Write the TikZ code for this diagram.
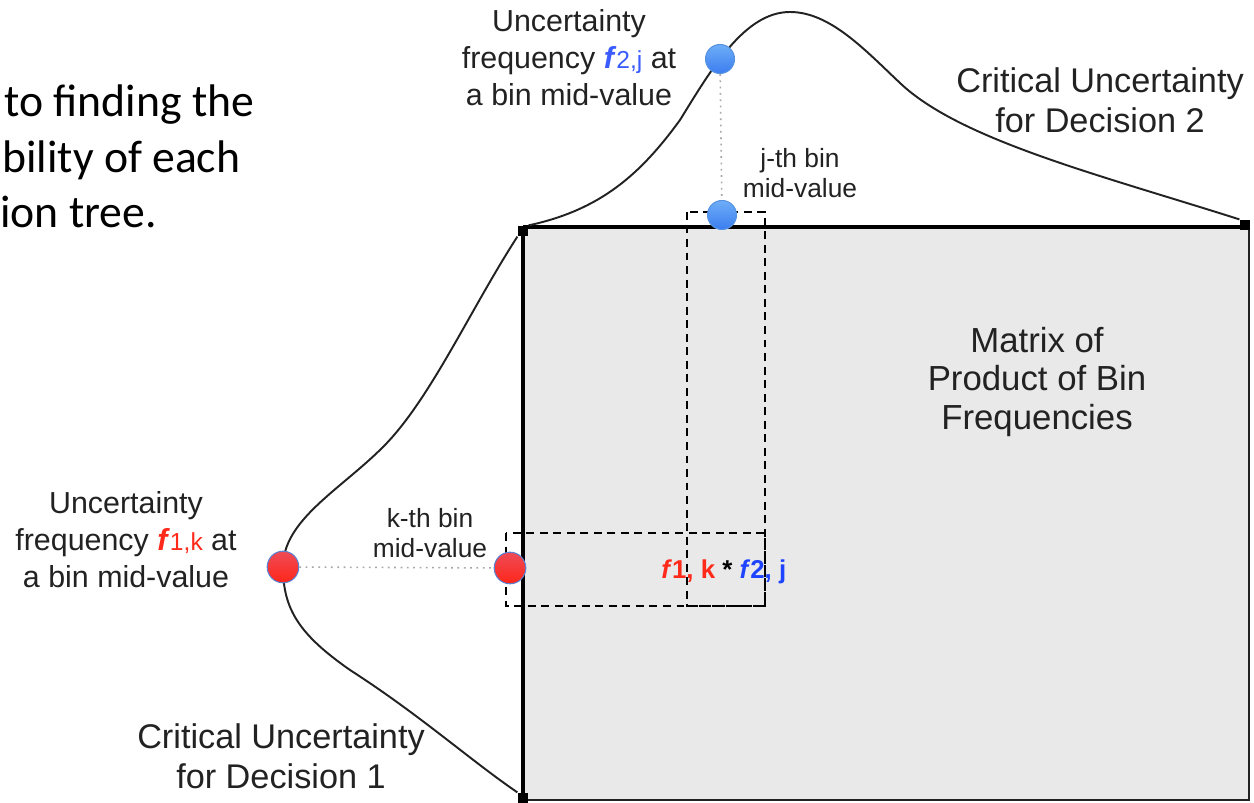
\documentclass[tikz,border=0pt]{standalone}
\usepackage{fontspec}
\setmainfont{Liberation Sans}
\newfontfamily\calibrifont{Carlito}
\begin{document}
\definecolor{matrixgray}{HTML}{E9E9E9}
\definecolor{redtxt}{HTML}{FF2A1A}
\definecolor{bluetxt}{HTML}{1F44FF}
\definecolor{lightbluetxt}{HTML}{3A5CFF}
\definecolor{redtop}{HTML}{EE4B58}
\definecolor{redbot}{HTML}{FF2618}
\definecolor{redrim}{HTML}{5A80D0}
\definecolor{bluetop}{HTML}{6FAEF8}
\definecolor{bluebot}{HTML}{3A7DF0}
\definecolor{bluerim}{HTML}{5592E2}
\definecolor{inkgray}{HTML}{222222}
\begin{tikzpicture}[x=0.02cm,y=-0.02cm,
  lbl/.style={align=center,inner sep=0pt,text=inkgray,font=\fontsize{17.3}{21}\selectfont},
  critlbl/.style={align=center,inner sep=0pt,text=inkgray,font=\fontsize{19.5}{22.7}\selectfont},
  smalllbl/.style={align=center,inner sep=0pt,text=inkgray,font=\fontsize{15}{17}\selectfont},
  matlbl/.style={align=center,inner sep=0pt,text=inkgray,font=\fontsize{19.8}{22.1}\selectfont},
  bodytxt/.style={anchor=base west,inner sep=0pt,font=\calibrifont\fontsize{26}{32}\selectfont},
  corner/.style={fill=black,draw=none,minimum size=6pt,inner sep=0pt},
  reddot/.style={circle,minimum size=18pt,inner sep=0pt,draw=redrim,line width=0.6pt,top color=redtop,bottom color=redbot},
  bluedot/.style={circle,minimum size=16.5pt,inner sep=0pt,draw=bluerim,line width=0.6pt,top color=bluetop,bottom color=bluebot},
  density/.style={line width=1.1pt,draw=inkgray},
  guide/.style={draw=gray!70,line width=0.9pt,dash pattern=on 1pt off 2.6pt},
  binbox/.style={draw=black,line width=0.8pt,dash pattern=on 4.5pt off 3.2pt}
]
\useasboundingbox (0,0) rectangle (1254,803);

% running text on the left
\node[bodytxt] (t1) at (4,117) {to finding the};
\node[bodytxt] (t2) at (2,173) {bility of each};
\node[bodytxt] (t3) at (0,228) {ion tree.};

% matrix of products
\fill[matrixgray] (523,227) rectangle (1249,800);
\draw[inkgray,line width=0.9pt] (1249,227) -- (1249,800) -- (523,800);
\draw[black,line width=1.8pt] (523,227) -- (1249,227);
\draw[black,line width=2.3pt] (523,227) -- (523,800);
\node[matlbl] (mat) at (1037,382) {Matrix of\\Product of Bin\\Frequencies};

% dashed bin strips
\draw[binbox] (506,533) rectangle (765,606);
\draw[binbox] (687,212) rectangle (765,606);

% corner markers
\node[corner] (c1) at (523,231) {};
\node[corner] (c2) at (1245,225) {};
\node[corner] (c3) at (523,798) {};

% density curve of decision 2 (top)
\draw[density] (c1.north east)
  .. controls (600,210) and (640,175) .. (680,120)
  .. controls (712,68) and (745,12) .. (790,12)
  .. controls (830,12) and (865,50) .. (900,83)
  .. controls (960,140) and (1100,175) .. (c2.north west);
% density curve of decision 1 (left)
\draw[density] (c1.south west)
  .. controls (470,310) and (430,400) .. (383,447)
  .. controls (340,490) and (283,520) .. (283,567)
  .. controls (283,610) and (300,635) .. (350,670)
  .. controls (420,715) and (470,760) .. (c3.north west);

% bin mid-values
\node[bluedot] (b1) at (720,59) {};
\node[bluedot] (b2) at (722,215) {};
\node[reddot] (r1) at (283,567) {};
\node[reddot] (r2) at (510,568) {};
\draw[guide] (b1) -- (b2);
\draw[guide] (r1) -- (r2);

% product label
\node[anchor=west,inner sep=0pt,font=\fontsize{14.7}{17}\selectfont\bfseries] (prod) at (661,572)
  {\textcolor{redtxt}{\textit{f}1, k} * \textcolor{bluetxt}{\textit{f}2, j}};

% labels
\node[lbl] (u2) at (569,58) {Uncertainty\\frequency \textcolor{lightbluetxt}{\textbf{\textit{f}}{\fontsize{14}{14}\selectfont 2,j}} at\\a bin mid-value};
\node[lbl] (u1) at (126,540) {Uncertainty\\frequency \textcolor{redtxt}{\textbf{\textit{f}}{\fontsize{14}{14}\selectfont 1,k}} at\\a bin mid-value};
\node[smalllbl] (jb) at (800,173) {j-th bin\\mid-value};
\node[smalllbl] (kb) at (430,533) {k-th bin\\mid-value};
\node[critlbl] (d2) at (1100,100) {Critical Uncertainty\\for Decision 2};
\node[critlbl] (d1) at (281,756) {Critical Uncertainty\\for Decision 1};
\end{tikzpicture}
\end{document}
